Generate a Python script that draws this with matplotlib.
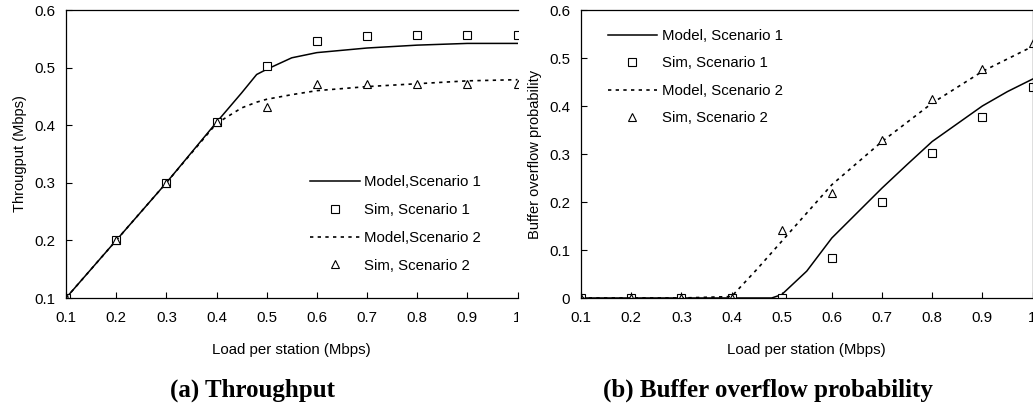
import numpy as np
import matplotlib.pyplot as plt
from matplotlib.transforms import Bbox, TransformedBbox

plt.rcParams['font.family'] = ['Liberation Sans', 'DejaVu Sans']

# --- (a) throughput ---
load_model_a = [0.1, 0.2, 0.3, 0.4, 0.45, 0.48, 0.5, 0.55, 0.6, 0.7, 0.8, 0.9, 1.0]
thr_model_s1 = [0.1, 0.2, 0.3, 0.405, 0.456, 0.488, 0.497, 0.517, 0.526, 0.534, 0.539, 0.542, 0.542]
thr_model_s2 = [0.1, 0.2, 0.3, 0.403, 0.43, 0.44, 0.445, 0.453, 0.46, 0.467, 0.472, 0.477, 0.479]

load_sim = [0.1, 0.2, 0.3, 0.4, 0.5, 0.6, 0.7, 0.8, 0.9, 1.0]
thr_sim_s1 = [0.1, 0.2, 0.3, 0.405, 0.503, 0.546, 0.555, 0.557, 0.557, 0.557]
thr_sim_s2 = [0.1, 0.2, 0.3, 0.405, 0.432, 0.471, 0.471, 0.471, 0.471, 0.471]

# --- (b) buffer overflow probability ---
load_model_b1 = [0.1, 0.2, 0.3, 0.4, 0.48, 0.5, 0.55, 0.6, 0.65, 0.7, 0.75, 0.8, 0.9, 0.95, 1.0]
bop_model_s1 = [0, 0, 0, 0, 0, 0.007, 0.056, 0.125, 0.177, 0.229, 0.278, 0.326, 0.40, 0.43, 0.456]
load_model_b2 = [0.1, 0.2, 0.3, 0.4, 0.45, 0.5, 0.55, 0.6, 0.7, 0.8, 0.9, 1.0]
bop_model_s2 = [0, 0, 0, 0.003, 0.059, 0.118, 0.177, 0.236, 0.326, 0.406, 0.472, 0.524]

bop_sim_s1 = [0, 0, 0, 0, 0, 0.083, 0.2, 0.302, 0.377, 0.44]
bop_sim_s2 = [0, 0, 0, 0, 0.142, 0.219, 0.33, 0.415, 0.477, 0.531]

xticks = [0.1, 0.2, 0.3, 0.4, 0.5, 0.6, 0.7, 0.8, 0.9, 1.0]
xticklabels = ['0.1', '0.2', '0.3', '0.4', '0.5', '0.6', '0.7', '0.8', '0.9', '1']

W, H = 1033, 409
fig = plt.figure(figsize=(W / 100, H / 100), dpi=100)

FS = 10.8
dots = (0, (2, 2.6))
mk = dict(linestyle='none', color='black', markerfacecolor='white',
          markeredgecolor='black', markeredgewidth=0.8)


def style_axes(ax, x0, x1):
    ax.set_xlim(0.1, 1.0)
    ax.set_xticks(xticks)
    ax.set_xticklabels(xticklabels)
    ax.tick_params(direction='in', length=4, width=0.8, labelsize=FS, colors='black')
    ax.tick_params(axis='x', pad=9)
    ax.tick_params(axis='y', pad=8)
    for s in ax.spines.values():
        s.set_linewidth(0.9)
    ax.set_xlabel('Load per station (Mbps)', fontsize=FS, labelpad=13)
    # cut the tick labels at the panel edge like the cropped original
    clip = TransformedBbox(Bbox([[x0 / W, 0], [x1 / W, 1]]), fig.transFigure)
    for lab in ax.get_xticklabels():
        lab.set_clip_box(clip)
        lab.set_clip_on(True)


# left panel
ax1 = fig.add_axes([66 / W, 111 / H, (517.5 - 66) / W, 288 / H])
ax1.plot(load_model_a, thr_model_s1, color='black', lw=1.1, label='Model,Scenario 1')
ax1.plot(load_sim, thr_sim_s1, marker='s', markersize=5.5, label='Sim, Scenario 1', **mk)
ax1.plot(load_model_a, thr_model_s2, color='black', lw=1.2, linestyle=dots, label='Model,Scenario 2')
ax1.plot(load_sim, thr_sim_s2, marker='^', markersize=6, label='Sim, Scenario 2', **mk)
ax1.set_ylim(0.1, 0.6)
ax1.set_yticks([0.1, 0.2, 0.3, 0.4, 0.5, 0.6])
ax1.set_yticklabels(['0.1', '0.2', '0.3', '0.4', '0.5', '0.6'])
ax1.spines['right'].set_visible(False)
style_axes(ax1, 0, 517.5)
ax1.set_ylabel('Througput (Mbps)', fontsize=10.5, labelpad=5)
ax1.legend(loc='center left', bbox_to_anchor=(310 / W, 1 - 224 / H),
           bbox_transform=fig.transFigure, frameon=False, fontsize=FS,
           handlelength=3.3, handletextpad=0.3, labelspacing=0.92,
           borderpad=0, borderaxespad=0)

# right panel
ax2 = fig.add_axes([581 / W, 111 / H, (1032.5 - 581) / W, 288 / H])
ax2.plot(load_model_b1, bop_model_s1, color='black', lw=1.1, label='Model, Scenario 1')
ax2.plot(load_sim, bop_sim_s1, marker='s', markersize=5.5, label='Sim, Scenario 1', **mk)
ax2.plot(load_model_b2, bop_model_s2, color='black', lw=1.2, linestyle=dots, label='Model, Scenario 2')
ax2.plot(load_sim, bop_sim_s2, marker='^', markersize=6, label='Sim, Scenario 2', **mk)
ax2.set_ylim(0, 0.6)
ax2.set_yticks([0, 0.1, 0.2, 0.3, 0.4, 0.5, 0.6])
ax2.set_yticklabels(['0', '0.1', '0.2', '0.3', '0.4', '0.5', '0.6'])
style_axes(ax2, 519, W)
ax2.set_ylabel('Buffer overflow probability', fontsize=10.5, labelpad=5)
ax2.legend(loc='center left', bbox_to_anchor=(607.5 / W, 1 - 77 / H),
           bbox_transform=fig.transFigure, frameon=False, fontsize=FS,
           handlelength=3.3, handletextpad=0.3, labelspacing=0.9,
           borderpad=0, borderaxespad=0)

# subtitles
fig.text(252 / W, 1 - 390 / H, '(a) Throughput', ha='center', va='center',
         fontsize=18, fontweight='bold', family='Liberation Serif')
fig.text(768 / W, 1 - 390 / H, '(b) Buffer overflow probability', ha='center', va='center',
         fontsize=18, fontweight='bold', family='Liberation Serif')

fig.savefig('out.png', dpi=100)
